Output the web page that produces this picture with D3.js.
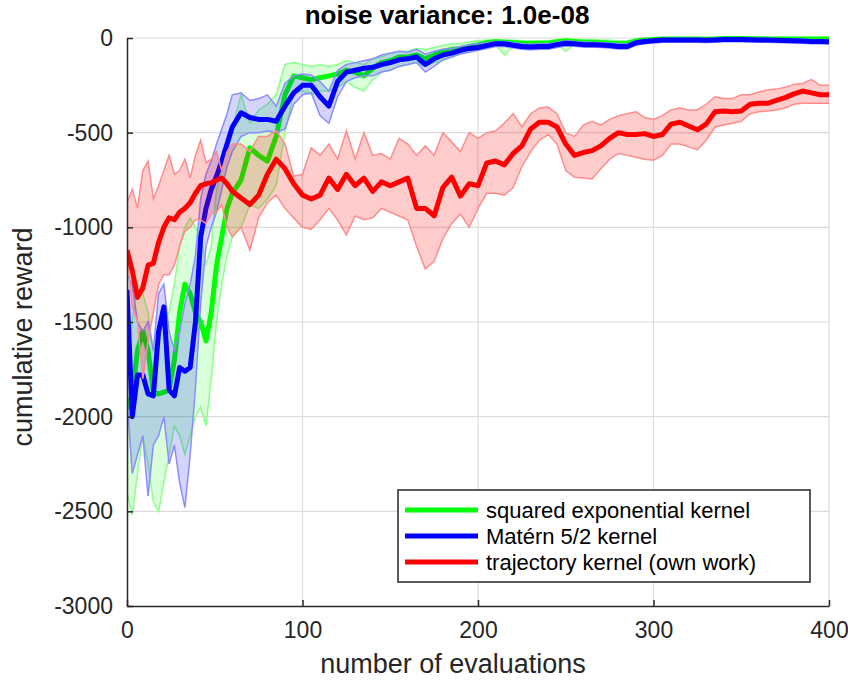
<!DOCTYPE html>
<html>
<head>
<meta charset="utf-8">
<script src="https://cdn.jsdelivr.net/npm/d3@7"></script>
<style>
  body { margin: 0; background: #fff; }
  svg text { font-family: "Liberation Sans", Arial, Helvetica, sans-serif; fill: #262626; }
</style>
</head>
<body>
<svg id="chart" width="848" height="683"></svg>
<script>
// x values (number of evaluations) shared by all series
var evals = [0, 3, 6, 9, 12, 15, 18, 21, 24, 27, 30, 33, 36, 39, 42, 45, 48, 51, 54, 57, 60,
  65, 70, 75, 80, 85, 90, 95, 100, 105, 110, 115, 120, 125, 130, 135, 140, 145, 150, 155, 160,
  165, 170, 175, 180, 185, 190, 195, 200, 205, 210, 215, 220, 225, 230, 235, 240, 245, 250, 255,
  260, 265, 270, 275, 280, 285, 290, 295, 300, 305, 310, 315, 320, 325, 330, 335, 340, 345, 350,
  355, 360, 365, 370, 375, 380, 385, 390, 395, 400];

// squared exponential kernel
var seMean = [-1960, -1880, -1650, -1550, -1650, -1870, -1880, -1870, -1860, -1700, -1450, -1300, -1350, -1450, -1500, -1600, -1450, -1200, -1050, -900, -820,
  -750, -580, -620, -650, -520, -300, -200, -210, -220, -210, -200, -190, -170, -180, -200, -160, -130, -120, -100, -100,
  -90, -110, -90, -70, -60, -55, -45, -35, -25, -20, -22, -25, -28, -30, -28, -28, -20, -15, -18,
  -22, -22, -25, -28, -30, -30, -15, -10, -8, -5, -5, -5, -5, -5, -6, -5, -3, -3, -3,
  -4, -4, -5, -5, -5, -5, -5, -5, -5, -5];
var seHigh = [-1700, -1500, -1300, -1350, -1450, -1650, -1600, -1500, -1450, -1300, -1100, -1000, -950, -1000, -1050, -1200, -1100, -800, -700, -550, -480,
  -300, -450, -380, -350, -300, -140, -130, -140, -150, -140, -150, -140, -120, -130, -140, -110, -100, -80, -70, -70,
  -55, -60, -50, -40, -30, -30, -20, -15, -10, -8, -10, -12, -15, -15, -14, -14, -8, -5, -6,
  -8, -8, -10, -12, -14, -14, -5, -2, 0, 0, 0, 0, 0, 0, 0, 0, 0, 0, 0,
  0, 0, 0, 0, 0, 0, 0, 0, 0, 0];
var seLow = [-2400, -2520, -2300, -2100, -2250, -2450, -2500, -2350, -2200, -2050, -2100, -2200, -2100, -2000, -1950, -2050, -1800, -1500, -1300, -1150, -1050,
  -1000, -880, -900, -850, -780, -500, -290, -280, -300, -280, -280, -260, -230, -260, -280, -220, -180, -170, -150, -140,
  -130, -150, -130, -120, -100, -80, -70, -55, -45, -35, -90, -45, -45, -48, -45, -45, -35, -70, -32,
  -38, -38, -40, -44, -46, -46, -28, -20, -16, -12, -12, -12, -12, -12, -13, -12, -10, -10, -10,
  -11, -11, -12, -12, -12, -12, -12, -12, -12, -12];

// Matérn 5/2 kernel
var maternMean = [-1330, -2000, -1780, -1780, -1880, -1890, -1550, -1420, -1860, -1890, -1740, -1760, -1740, -1500, -1050, -900, -800, -730, -650, -560, -470,
  -395, -420, -430, -430, -440, -360, -290, -250, -250, -310, -360, -230, -180, -170, -160, -155, -140, -130, -115, -110,
  -100, -140, -110, -90, -80, -65, -55, -50, -40, -30, -30, -38, -45, -48, -45, -45, -35, -28, -30,
  -35, -35, -37, -40, -45, -45, -25, -18, -15, -10, -10, -10, -10, -10, -12, -10, -8, -8, -8,
  -9, -10, -11, -12, -13, -15, -16, -18, -19, -20];
var maternHigh = [-1250, -1300, -1500, -1550, -1500, -1650, -1350, -1300, -1550, -1650, -1550, -1400, -1300, -1150, -850, -720, -650, -560, -480, -400, -300,
  -290, -330, -320, -300, -360, -240, -200, -190, -195, -230, -280, -170, -140, -130, -120, -110, -90, -80, -70, -75,
  -60, -85, -70, -60, -55, -45, -35, -30, -25, -18, -18, -25, -30, -33, -30, -30, -22, -15, -18,
  -22, -22, -25, -28, -30, -32, -14, -8, -5, -2, -2, -2, -2, -3, -4, -2, 0, 0, 0,
  -1, -2, -3, -4, -5, -6, -7, -9, -10, -11];
var maternLow = [-1900, -2300, -2200, -2100, -2420, -2150, -2100, -2000, -2250, -2150, -2350, -2480, -2200, -1850, -1400, -1100, -1000, -920, -800, -680, -600,
  -520, -500, -500, -490, -500, -480, -350, -300, -290, -410, -450, -310, -230, -210, -200, -200, -180, -170, -150, -140,
  -130, -180, -150, -115, -100, -85, -75, -65, -55, -45, -45, -52, -60, -62, -60, -60, -50, -42, -44,
  -48, -48, -50, -53, -58, -58, -38, -30, -27, -22, -22, -22, -22, -22, -24, -22, -20, -20, -20,
  -21, -22, -23, -24, -25, -27, -28, -30, -31, -32];

// trajectory kernel (own work)
var trajMean = [-1120, -1230, -1370, -1320, -1200, -1190, -1080, -1000, -950, -960, -920, -900, -870, -820, -780, -770, -765, -750, -740, -770, -810,
  -845, -880, -830, -720, -640, -690, -770, -830, -850, -830, -740, -800, -720, -780, -740, -810, -760, -780, -760, -740,
  -900, -900, -940, -790, -735, -835, -770, -780, -660, -650, -670, -610, -570, -480, -445, -445, -470, -560, -620,
  -605, -595, -570, -530, -500, -510, -510, -505, -520, -510, -455, -445, -465, -485, -455, -390, -385, -390, -385,
  -350, -345, -345, -330, -315, -295, -280, -290, -300, -300];
var trajHigh = [-870, -800, -900, -700, -650, -850, -780, -700, -620, -720, -700, -640, -740, -620, -540, -660, -640, -600, -700, -600, -560,
  -560, -600, -520, -520, -490, -560, -730, -720, -580, -620, -560, -640, -490, -640, -500, -620, -610, -640, -530, -560,
  -620, -570, -620, -500, -550, -600, -500, -530, -500, -490, -450, -400, -470, -400, -370, -365, -400, -500, -520,
  -460, -440, -460, -430, -410, -400, -390, -420, -430, -410, -380, -370, -380, -380, -350, -310, -320, -320, -300,
  -300, -285, -275, -270, -260, -245, -240, -220, -250, -250];
var trajLow = [-1140, -1420, -1500, -1800, -1600, -1450, -1300, -1250, -1250, -1200, -1100, -1020, -1000, -960, -960, -980, -930, -920, -880, -1000, -1050,
  -1000, -1120, -950, -870, -830, -900, -950, -1000, -1010, -960, -900, -960, -1040, -940, -960, -950, -900, -920, -940, -960,
  -1100, -1220, -1180, -1060, -980, -930, -1000, -900, -820, -820, -830, -790, -680, -600, -540, -510, -560, -700, -735,
  -740, -745, -690, -640, -610, -620, -630, -640, -645, -620, -560, -560, -575, -590, -540, -470, -460, -450, -440,
  -400, -390, -385, -380, -370, -350, -345, -345, -345, -345];

var xTicks = [0, 100, 200, 300, 400];
var yTicks = [0, -500, -1000, -1500, -2000, -2500, -3000];
var seriesNames = ["squared exponential kernel", "Matérn 5/2 kernel", "trajectory kernel (own work)"];

var series = [
  { name: seriesNames[0], mean: seMean, lo: seLow, hi: seHigh, color: "#00ff00", edge: "#8cff8c", fill: "rgba(0,255,0,0.15)" },
  { name: seriesNames[1], mean: maternMean, lo: maternLow, hi: maternHigh, color: "#0000ff", edge: "#8c8cff", fill: "rgba(0,0,255,0.17)" },
  { name: seriesNames[2], mean: trajMean, lo: trajLow, hi: trajHigh, color: "#ff0000", edge: "#ff8c8c", fill: "rgba(255,0,0,0.2)" }
];

var plotLeft = 127, plotRight = 829, plotTop = 38, plotBottom = 606;

var svg = d3.select("#chart");

var x = d3.scaleLinear().domain([0, 400]).range([plotLeft, plotRight]);
var y = d3.scaleLinear().domain([-3000, 0]).range([plotBottom, plotTop]);

// grid
var grid = svg.append("g");
grid.selectAll(".gx").data(xTicks.slice(1)).enter().append("line")
    .attr("x1", function(d) { return x(d); }).attr("x2", function(d) { return x(d); })
    .attr("y1", plotTop).attr("y2", plotBottom)
    .attr("stroke", "#dcdcdc").attr("stroke-width", 1.2);
grid.selectAll(".gy").data(yTicks.slice(0, -1)).enter().append("line")
    .attr("x1", plotLeft).attr("x2", plotRight)
    .attr("y1", function(d) { return y(d); }).attr("y2", function(d) { return y(d); })
    .attr("stroke", "#dcdcdc").attr("stroke-width", 1.2);

svg.append("clipPath").attr("id", "plotclip")
    .append("rect").attr("x", plotLeft).attr("y", plotTop - 4)
    .attr("width", plotRight - plotLeft + 4).attr("height", plotBottom - plotTop + 4);

var plot = svg.append("g").attr("clip-path", "url(#plotclip)");

var area = d3.area()
    .x(function(d, i) { return x(evals[i]); })
    .y0(function(d) { return y(d[0]); })
    .y1(function(d) { return y(d[1]); });

var line = d3.line()
    .x(function(d, i) { return x(evals[i]); })
    .y(function(d) { return y(d); });

series.forEach(function(s) {
    var band = s.lo.map(function(v, i) { return [v, s.hi[i]]; });
    plot.append("path")
        .attr("d", area(band))
        .attr("fill", s.fill)
        .attr("stroke", "none");
    plot.append("path")
        .attr("d", line(s.hi))
        .attr("fill", "none").attr("stroke", s.edge).attr("stroke-width", 1.5);
    plot.append("path")
        .attr("d", line(s.lo))
        .attr("fill", "none").attr("stroke", s.edge).attr("stroke-width", 1.5);
    plot.append("path")
        .attr("d", line(s.mean))
        .attr("fill", "none").attr("stroke", s.color)
        .attr("stroke-width", 5).attr("stroke-linejoin", "round");
});

// axes
var fmt = function(d) { return String(d); };
var xAxis = d3.axisBottom(x).tickValues(xTicks).tickFormat(fmt).tickSizeInner(-6).tickSizeOuter(0).tickPadding(16);
var yAxis = d3.axisLeft(y).tickValues(yTicks).tickFormat(fmt).tickSizeInner(-6).tickSizeOuter(0).tickPadding(14);

var gx = svg.append("g").attr("transform", "translate(0," + plotBottom + ")").call(xAxis);
var gy = svg.append("g").attr("transform", "translate(" + plotLeft + ",0)").call(yAxis);
[gx, gy].forEach(function(g) {
    g.select(".domain").attr("stroke", "#262626").attr("stroke-width", 1.5);
    g.selectAll(".tick line").attr("stroke", "#262626").attr("stroke-width", 1.5);
    g.selectAll(".tick text").attr("font-size", 23).attr("fill", "#262626")
        .attr("font-family", "Liberation Sans, Arial, sans-serif");
});

// titles
svg.append("text").attr("x", 447).attr("y", 24).attr("text-anchor", "middle")
    .attr("font-size", 26).attr("font-weight", "bold").style("fill", "#000")
    .text("noise variance: 1.0e-08");
svg.append("text").attr("x", 453).attr("y", 673).attr("text-anchor", "middle")
    .attr("font-size", 27).text("number of evaluations");
svg.append("text").attr("transform", "translate(32,337) rotate(-90)").attr("text-anchor", "middle")
    .attr("font-size", 27).text("cumulative reward");

// legend
var lg = svg.append("g").attr("transform", "translate(398,490)");
lg.append("rect").attr("width", 412).attr("height", 92)
    .attr("fill", "#fff").attr("stroke", "#262626").attr("stroke-width", 1.5);
series.forEach(function(s, i) {
    var yy = 20 + i * 26;
    lg.append("line").attr("x1", 7).attr("x2", 80).attr("y1", yy).attr("y2", yy)
        .attr("stroke", s.color).attr("stroke-width", 5);
    lg.append("text").attr("x", 88).attr("y", yy + 8).attr("font-size", 22).style("fill", "#000").text(s.name);
});
</script>
</body>
</html>
